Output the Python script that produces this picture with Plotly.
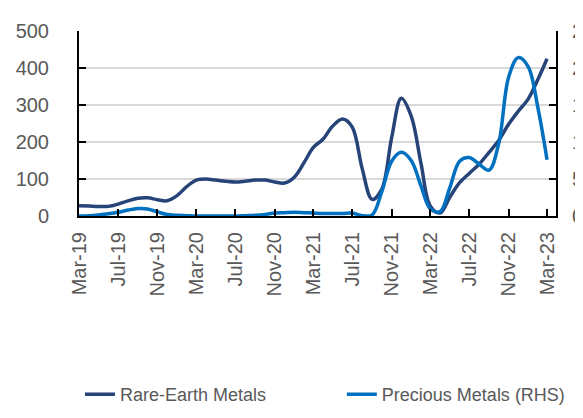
import pandas as pd
import plotly.graph_objects as go

# Monthly observations, Mar-2019 .. Mar-2023
months = pd.date_range("2019-03-01", "2023-03-01", freq="MS")

rare_earth = [28, 27, 26, 26, 32, 41, 48, 49, 44, 41,
              55, 80, 97, 100, 97, 94, 92, 94, 97, 97,
              92, 89, 105, 145, 185, 208, 243, 262, 240, 128,
              45, 72, 212, 318, 270, 140, 28, 8, 50, 90,
              115, 140, 172, 204, 248, 283, 316, 370, 425]

precious_rhs = [0, 0.05, 0.15, 0.3, 0.5, 0.8, 1.0, 0.95, 0.55, 0.2,
                0.1, 0.05, 0, 0, 0, 0, 0, 0.05, 0.1, 0.2,
                0.4, 0.45, 0.5, 0.45, 0.4, 0.35, 0.35, 0.35, 0.4, 0.05,
                0.15, 3.25, 7.4, 8.6, 7.5, 4.0, 1.0, 0.6, 3.75, 7.4,
                7.9, 7.0, 6.2, 9.75, 18.75, 21.4, 20.2, 14.5, 7.6]

tick_dates = ["2019-03-01", "2019-07-01", "2019-11-01", "2020-03-01", "2020-07-01",
              "2020-11-01", "2021-03-01", "2021-07-01", "2021-11-01", "2022-03-01",
              "2022-07-01", "2022-11-01", "2023-03-01"]
tick_labels = ["Mar-19", "Jul-19", "Nov-19", "Mar-20", "Jul-20", "Nov-20", "Mar-21",
               "Jul-21", "Nov-21", "Mar-22", "Jul-22", "Nov-22", "Mar-23"]

left_ticks = [0, 100, 200, 300, 400, 500]
right_ticks = [0, 5, 10, 15, 20, 25]

FONT = "Liberation Sans, Arial, sans-serif"
TXT = "#595959"
TICKSIZE = 20

fig = go.Figure()
fig.add_trace(go.Scatter(x=months, y=rare_earth, name="Rare-Earth Metals", mode="lines",
                         legend="legend",
                         line=dict(color="#264478", width=3.5, shape="spline", smoothing=1.0)))
fig.add_trace(go.Scatter(x=months, y=precious_rhs, name="Precious Metals (RHS)", mode="lines",
                         yaxis="y2", legend="legend2",
                         line=dict(color="#0070C0", width=3.5, shape="spline", smoothing=1.0)))

leg_common = dict(orientation="h", xanchor="left", yanchor="middle", y=-0.965,
                  font=dict(family=FONT, size=18, color=TXT),
                  bgcolor="rgba(0,0,0,0)")

fig.update_layout(
    width=583, height=418,
    margin=dict(l=71, r=35, t=23, b=204, pad=0),
    plot_bgcolor="white", paper_bgcolor="white",
    font=dict(family=FONT, size=TICKSIZE, color=TXT),
    showlegend=True,
    legend=dict(x=0.002, **leg_common),
    legend2=dict(x=0.551, **leg_common),
    xaxis=dict(type="date", range=["2019-03-01", "2023-03-29"], automargin=False,
               showline=True, linecolor="black", linewidth=2,
               ticks="inside", ticklen=7, tickwidth=1.5, tickcolor="black",
               tickvals=tick_dates, ticktext=tick_labels, tickangle=-90,
               ticklabelstandoff=6,
               tickfont=dict(family=FONT, size=TICKSIZE, color=TXT),
               showgrid=False, zeroline=False),
    yaxis=dict(range=[0, 500], tickvals=left_ticks, automargin=False,
               showline=True, linecolor="black", linewidth=2,
               ticks="inside", ticklen=7, tickwidth=1.5, tickcolor="black",
               showgrid=True, gridcolor="#D9D9D9", gridwidth=1.5, zeroline=False,
               ticklabelstandoff=24,
               tickfont=dict(family=FONT, size=TICKSIZE, color=TXT)),
    yaxis2=dict(range=[0, 25], tickvals=right_ticks, overlaying="y", side="right",
                automargin=False,
                showline=True, linecolor="black", linewidth=2,
                ticks="inside", ticklen=7, tickwidth=1.5, tickcolor="black",
                showgrid=False, zeroline=False, ticklabelstandoff=10,
                tickfont=dict(family=FONT, size=TICKSIZE, color=TXT)),
)

fig.write_html("out.html")
